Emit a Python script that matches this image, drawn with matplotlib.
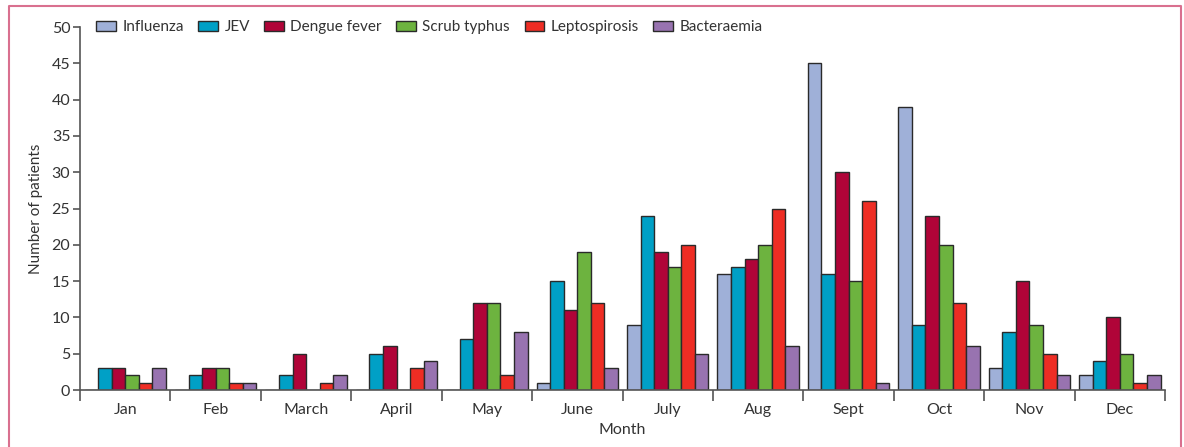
import numpy as np
import matplotlib
matplotlib.use("Agg")
import matplotlib.pyplot as plt

plt.rcParams['font.family'] = ['Lato', 'DejaVu Sans']

months = ["Jan", "Feb", "March", "April", "May", "June",
          "July", "Aug", "Sept", "Oct", "Nov", "Dec"]
series_names = ["Influenza", "JEV", "Dengue fever", "Scrub typhus",
                "Leptospirosis", "Bacteraemia"]

influenza = [0, 0, 0, 0, 0, 1, 9, 16, 45, 39, 3, 2]
jev = [3, 2, 2, 5, 7, 15, 24, 17, 16, 9, 8, 4]
dengue = [3, 3, 5, 6, 12, 11, 19, 18, 30, 24, 15, 10]
scrub = [2, 3, 0, 0, 12, 19, 17, 20, 15, 20, 9, 5]
lepto = [1, 1, 1, 3, 2, 12, 20, 25, 26, 12, 5, 1]
bact = [3, 1, 2, 4, 8, 3, 5, 6, 1, 6, 2, 2]

colors = ["#9fb0d8", "#00a0c6", "#b00438", "#6db33f", "#ee2d24", "#9873b0"]

fig = plt.figure(figsize=(11.84, 4.47), dpi=100)
ax = fig.add_axes([0.0676, 0.1275, 0.9164, 0.812])

# pink frame round the figure, open at the bottom
fig.add_artist(plt.Line2D([0.0072, 0.0072, 0.9975, 0.9975], [0.0, 0.9866, 0.9866, 0.0],
                          transform=fig.transFigure, color="#d9708f", lw=1.5))

all_series = [influenza, jev, dengue, scrub, lepto, bact]
x = np.arange(len(months))
w = 0.15
for i, (vals, name, c) in enumerate(zip(all_series, series_names, colors)):
    ax.bar(x + 0.05 + i * w, vals, width=w, align="edge", color=c,
           edgecolor="#2a2a2a", linewidth=1.0, label=name)

ax.set_xlim(0, 12)
ax.set_ylim(0, 50)
ax.set_yticks(range(0, 51, 5))
ax.set_xticks(range(0, 13))
ax.set_xticklabels([])
ax.set_xticks(x + 0.5, minor=True)
ax.set_xticklabels(months, minor=True)
ax.tick_params(axis="x", which="major", length=8, width=1.2, color="#555555", direction="out")
ax.tick_params(axis="x", which="minor", length=0, pad=9, labelsize=11.5, labelcolor="#333333")
ax.tick_params(axis="y", length=5, width=1.2, color="#555555", labelsize=11.5,
               labelcolor="#333333", pad=2)

for s in ["top", "right"]:
    ax.spines[s].set_visible(False)
for s in ["left", "bottom"]:
    ax.spines[s].set_color("#555555")
    ax.spines[s].set_linewidth(1.2)

ax.set_ylabel("Number of patients", fontsize=11, color="#333333", labelpad=6)
ax.set_xlabel("Month", fontsize=11.5, color="#333333", labelpad=5)

leg = ax.legend(loc="upper left", bbox_to_anchor=(0.0095, 1.035), ncol=6, frameon=False,
                fontsize=11, handlelength=1.3, handleheight=0.7, handletextpad=0.4,
                columnspacing=0.95, borderaxespad=0)
for t in leg.get_texts():
    t.set_color("#333333")

fig.savefig("out.png", dpi=100)
